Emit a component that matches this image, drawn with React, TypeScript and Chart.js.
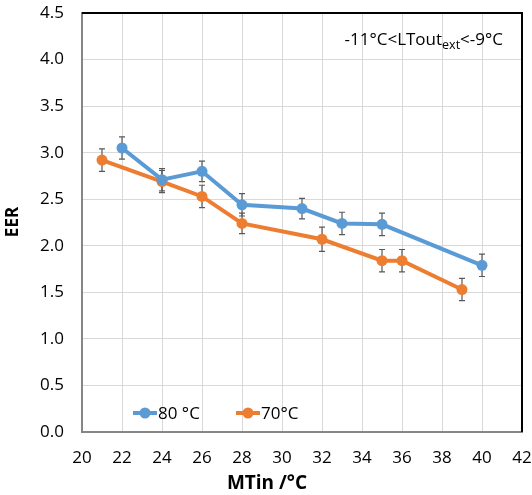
import React, { useEffect, useRef } from "react";
import { Chart, registerables } from "chart.js";

Chart.register(...registerables);

const seriesNames = ["80 °C", "70°C"];
const x80 = [22, 24, 26, 28, 31, 33, 35, 40];
const y80 = [3.05, 2.71, 2.8, 2.44, 2.4, 2.24, 2.23, 1.79];
const err80 = [0.12, 0.12, 0.11, 0.12, 0.11, 0.12, 0.12, 0.12];
const x70 = [21, 24, 26, 28, 32, 35, 36, 39];
const y70 = [2.92, 2.69, 2.53, 2.24, 2.07, 1.84, 1.84, 1.53];
const err70 = [0.12, 0.12, 0.12, 0.11, 0.13, 0.12, 0.12, 0.12];
const colors = ["#5B9BD5", "#ED7D31"];
const xTitle = "MTin /°C";
const yTitle = "EER";
const noteMain = "-11°C<LTout";
const noteSub = "ext";
const noteEnd = "<-9°C";

const FONT = "'Open Sans', 'DejaVu Sans', sans-serif";
const errors = [err80, err70];

const errorBarPlugin = {
  id: "errorBars",
  beforeDatasetsDraw(chart: any) {
    const ctx = chart.ctx;
    const ys = chart.scales.y;
    ctx.save();
    ctx.strokeStyle = "#595959";
    ctx.lineWidth = 1.2;
    chart.data.datasets.forEach((ds: any, di: number) => {
      const meta = chart.getDatasetMeta(di);
      meta.data.forEach((pt: any, i: number) => {
        const v = ds.data[i].y;
        const e = errors[di][i];
        const top = ys.getPixelForValue(v + e);
        const bot = ys.getPixelForValue(v - e);
        const x = pt.x;
        ctx.beginPath();
        ctx.moveTo(x, top);
        ctx.lineTo(x, bot);
        ctx.moveTo(x - 3, top);
        ctx.lineTo(x + 3, top);
        ctx.moveTo(x - 3, bot);
        ctx.lineTo(x + 3, bot);
        ctx.stroke();
      });
    });
    ctx.restore();
  },
};

const decorPlugin = {
  id: "decor",
  afterDraw(chart: any) {
    const ctx = chart.ctx;
    const a = chart.chartArea;
    ctx.save();
    // top/right frame
    ctx.strokeStyle = "#000";
    ctx.lineWidth = 2;
    ctx.beginPath();
    ctx.moveTo(a.left, a.top);
    ctx.lineTo(a.right, a.top);
    ctx.lineTo(a.right, a.bottom);
    ctx.stroke();

    // annotation
    ctx.fillStyle = "#000";
    ctx.textBaseline = "alphabetic";
    const mainFont = "17px " + FONT;
    const subFont = "12.5px " + FONT;
    ctx.font = mainFont;
    const w1 = ctx.measureText(noteMain).width;
    const w3 = ctx.measureText(noteEnd).width;
    ctx.font = subFont;
    const w2 = ctx.measureText(noteSub).width;
    const right = 503;
    let x = right - (w1 + w2 + w3);
    const base = 45;
    ctx.textAlign = "left";
    ctx.font = mainFont;
    ctx.fillText(noteMain, x, base);
    x += w1;
    ctx.font = subFont;
    ctx.fillText(noteSub, x, base + 4);
    x += w2;
    ctx.font = mainFont;
    ctx.fillText(noteEnd, x, base);

    // legend
    const ly = 413;
    const starts = [133, 236];
    chart.data.datasets.forEach((ds: any, di: number) => {
      const sx = starts[di];
      ctx.strokeStyle = colors[di];
      ctx.lineWidth = 4;
      ctx.beginPath();
      ctx.moveTo(sx, ly);
      ctx.lineTo(sx + 24, ly);
      ctx.stroke();
      ctx.fillStyle = colors[di];
      ctx.beginPath();
      ctx.arc(sx + 12, ly, 5.5, 0, Math.PI * 2);
      ctx.fill();
      ctx.fillStyle = "#000";
      ctx.font = "17px " + FONT;
      ctx.textBaseline = "middle";
      ctx.textAlign = "left";
      ctx.fillText(ds.label, sx + 25, ly + 1);
    });

    // axis titles
    ctx.fillStyle = "#000";
    ctx.font = "bold 19px " + FONT;
    ctx.textAlign = "center";
    ctx.textBaseline = "middle";
    ctx.fillText(xTitle, 267, 484);
    ctx.save();
    ctx.translate(13, 222);
    ctx.rotate(-Math.PI / 2);
    ctx.font = "bold 17px " + FONT;
    ctx.fillText(yTitle, 0, 0);
    ctx.restore();
    ctx.restore();
  },
};

export default function App() {
  const ref = useRef<HTMLCanvasElement>(null);
  useEffect(() => {
    document.body.style.margin = "0";
    const canvas = ref.current!;
    const mk = (xs: number[], ys: number[]) => xs.map((x, i) => ({ x, y: ys[i] }));
    const chart = new Chart(canvas, {
      type: "line",
      data: {
        datasets: [
          {
            label: seriesNames[0],
            data: mk(x80, y80),
            borderColor: colors[0],
            backgroundColor: colors[0],
            borderWidth: 4,
            pointRadius: 5.5,
            pointBorderWidth: 0,
            pointBackgroundColor: colors[0],
            tension: 0,
          },
          {
            label: seriesNames[1],
            data: mk(x70, y70),
            borderColor: colors[1],
            backgroundColor: colors[1],
            borderWidth: 4,
            pointRadius: 5.5,
            pointBorderWidth: 0,
            pointBackgroundColor: colors[1],
            tension: 0,
          },
        ],
      },
      options: {
        responsive: false,
        animation: false,
        layout: { padding: { top: 13, right: 10, left: 0, bottom: 0 } },
        plugins: {
          legend: { display: false },
          tooltip: { enabled: false },
        },
        scales: {
          x: {
            type: "linear",
            min: 20,
            max: 42,
            ticks: {
              stepSize: 2,
              color: "#000",
              font: { family: FONT, size: 17 },
              padding: 16,
              maxRotation: 0,
            },
            grid: { color: "#d9d9d9", lineWidth: 1, drawTicks: false },
            border: { color: "#868686", width: 2 },
            afterFit(s: any) {
              s.height = 63;
              s.paddingLeft = 0;
              s.paddingRight = 0;
            },
          },
          y: {
            type: "linear",
            min: 0,
            max: 4.5,
            ticks: {
              stepSize: 0.5,
              color: "#000",
              font: { family: FONT, size: 17 },
              padding: 18,
              callback: (v: any) => Number(v).toFixed(1),
            },
            grid: { color: "#d9d9d9", lineWidth: 1, drawTicks: false },
            border: { color: "#868686", width: 2 },
            afterFit(s: any) {
              s.width = 82;
              s.paddingTop = 0;
              s.paddingBottom = 0;
            },
          },
        },
      },
      plugins: [errorBarPlugin, decorPlugin],
    } as any);
    return () => chart.destroy();
  }, []);
  return <canvas ref={ref} width={532} height={495} style={{ display: "block" }} />;
}
